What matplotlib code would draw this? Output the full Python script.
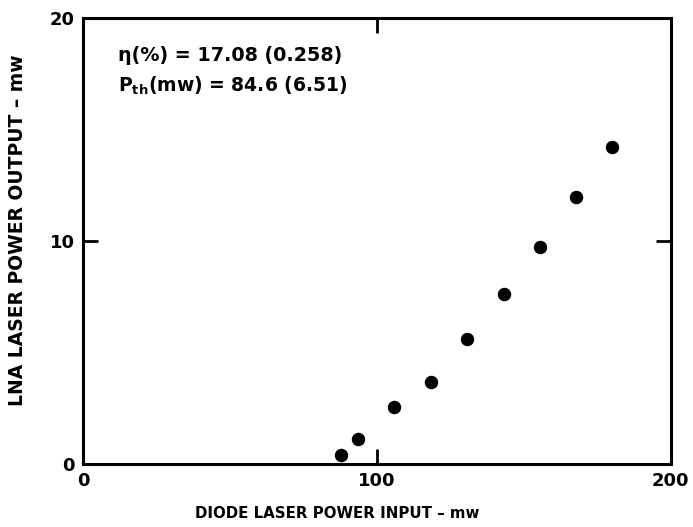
import matplotlib
matplotlib.use('Agg')
import matplotlib.pyplot as plt

# Data
p_in = [87.7, 93.4, 105.9, 118.3, 130.5, 143.1, 155.4, 167.7, 180.0]
p_out = [0.40, 1.12, 2.54, 3.69, 5.61, 7.64, 9.74, 11.96, 14.2]

x_ticks = [0, 100, 200]
y_ticks = [0, 10, 20]

plt.rcParams['font.family'] = 'DejaVu Sans'
plt.rcParams['font.weight'] = 'bold'
plt.rcParams['mathtext.fontset'] = 'custom'
plt.rcParams['mathtext.rm'] = 'DejaVu Sans:bold'
plt.rcParams['mathtext.it'] = 'DejaVu Sans:bold'
plt.rcParams['mathtext.bf'] = 'DejaVu Sans:bold'

fig = plt.figure(figsize=(6.93, 5.27), dpi=100)
ax = fig.add_axes([0.120, 0.1195, 0.848, 0.8465])

ax.scatter(p_in, p_out, s=75, color='black', zorder=3)

ax.set_xlim(0, 200)
ax.set_ylim(0, 20)
ax.set_xticks(x_ticks)
ax.set_yticks(y_ticks)
ax.tick_params(direction='in', length=11, width=2, top=True, right=True,
               labelsize=13, pad=6)
for s in ax.spines.values():
    s.set_linewidth(2.2)

ax.set_xlabel('DIODE LASER POWER INPUT \u2013 mw', fontsize=10.8,
              fontweight='bold')
ax.xaxis.set_label_coords(0.432, -0.095)
ax.set_ylabel('LNA LASER POWER OUTPUT \u2013 mw', fontsize=13.5,
              fontweight='bold')
ax.yaxis.set_label_coords(-0.096, 0.525)

ax.text(0.06, 0.915, '\u03b7(%) = 17.08 (0.258)', transform=ax.transAxes,
        fontsize=13.8, va='center')
ax.text(0.06, 0.848, 'P$_{th}$(mw) = 84.6 (6.51)', transform=ax.transAxes,
        fontsize=13.5, va='center')

fig.savefig('out.png', dpi=100)
